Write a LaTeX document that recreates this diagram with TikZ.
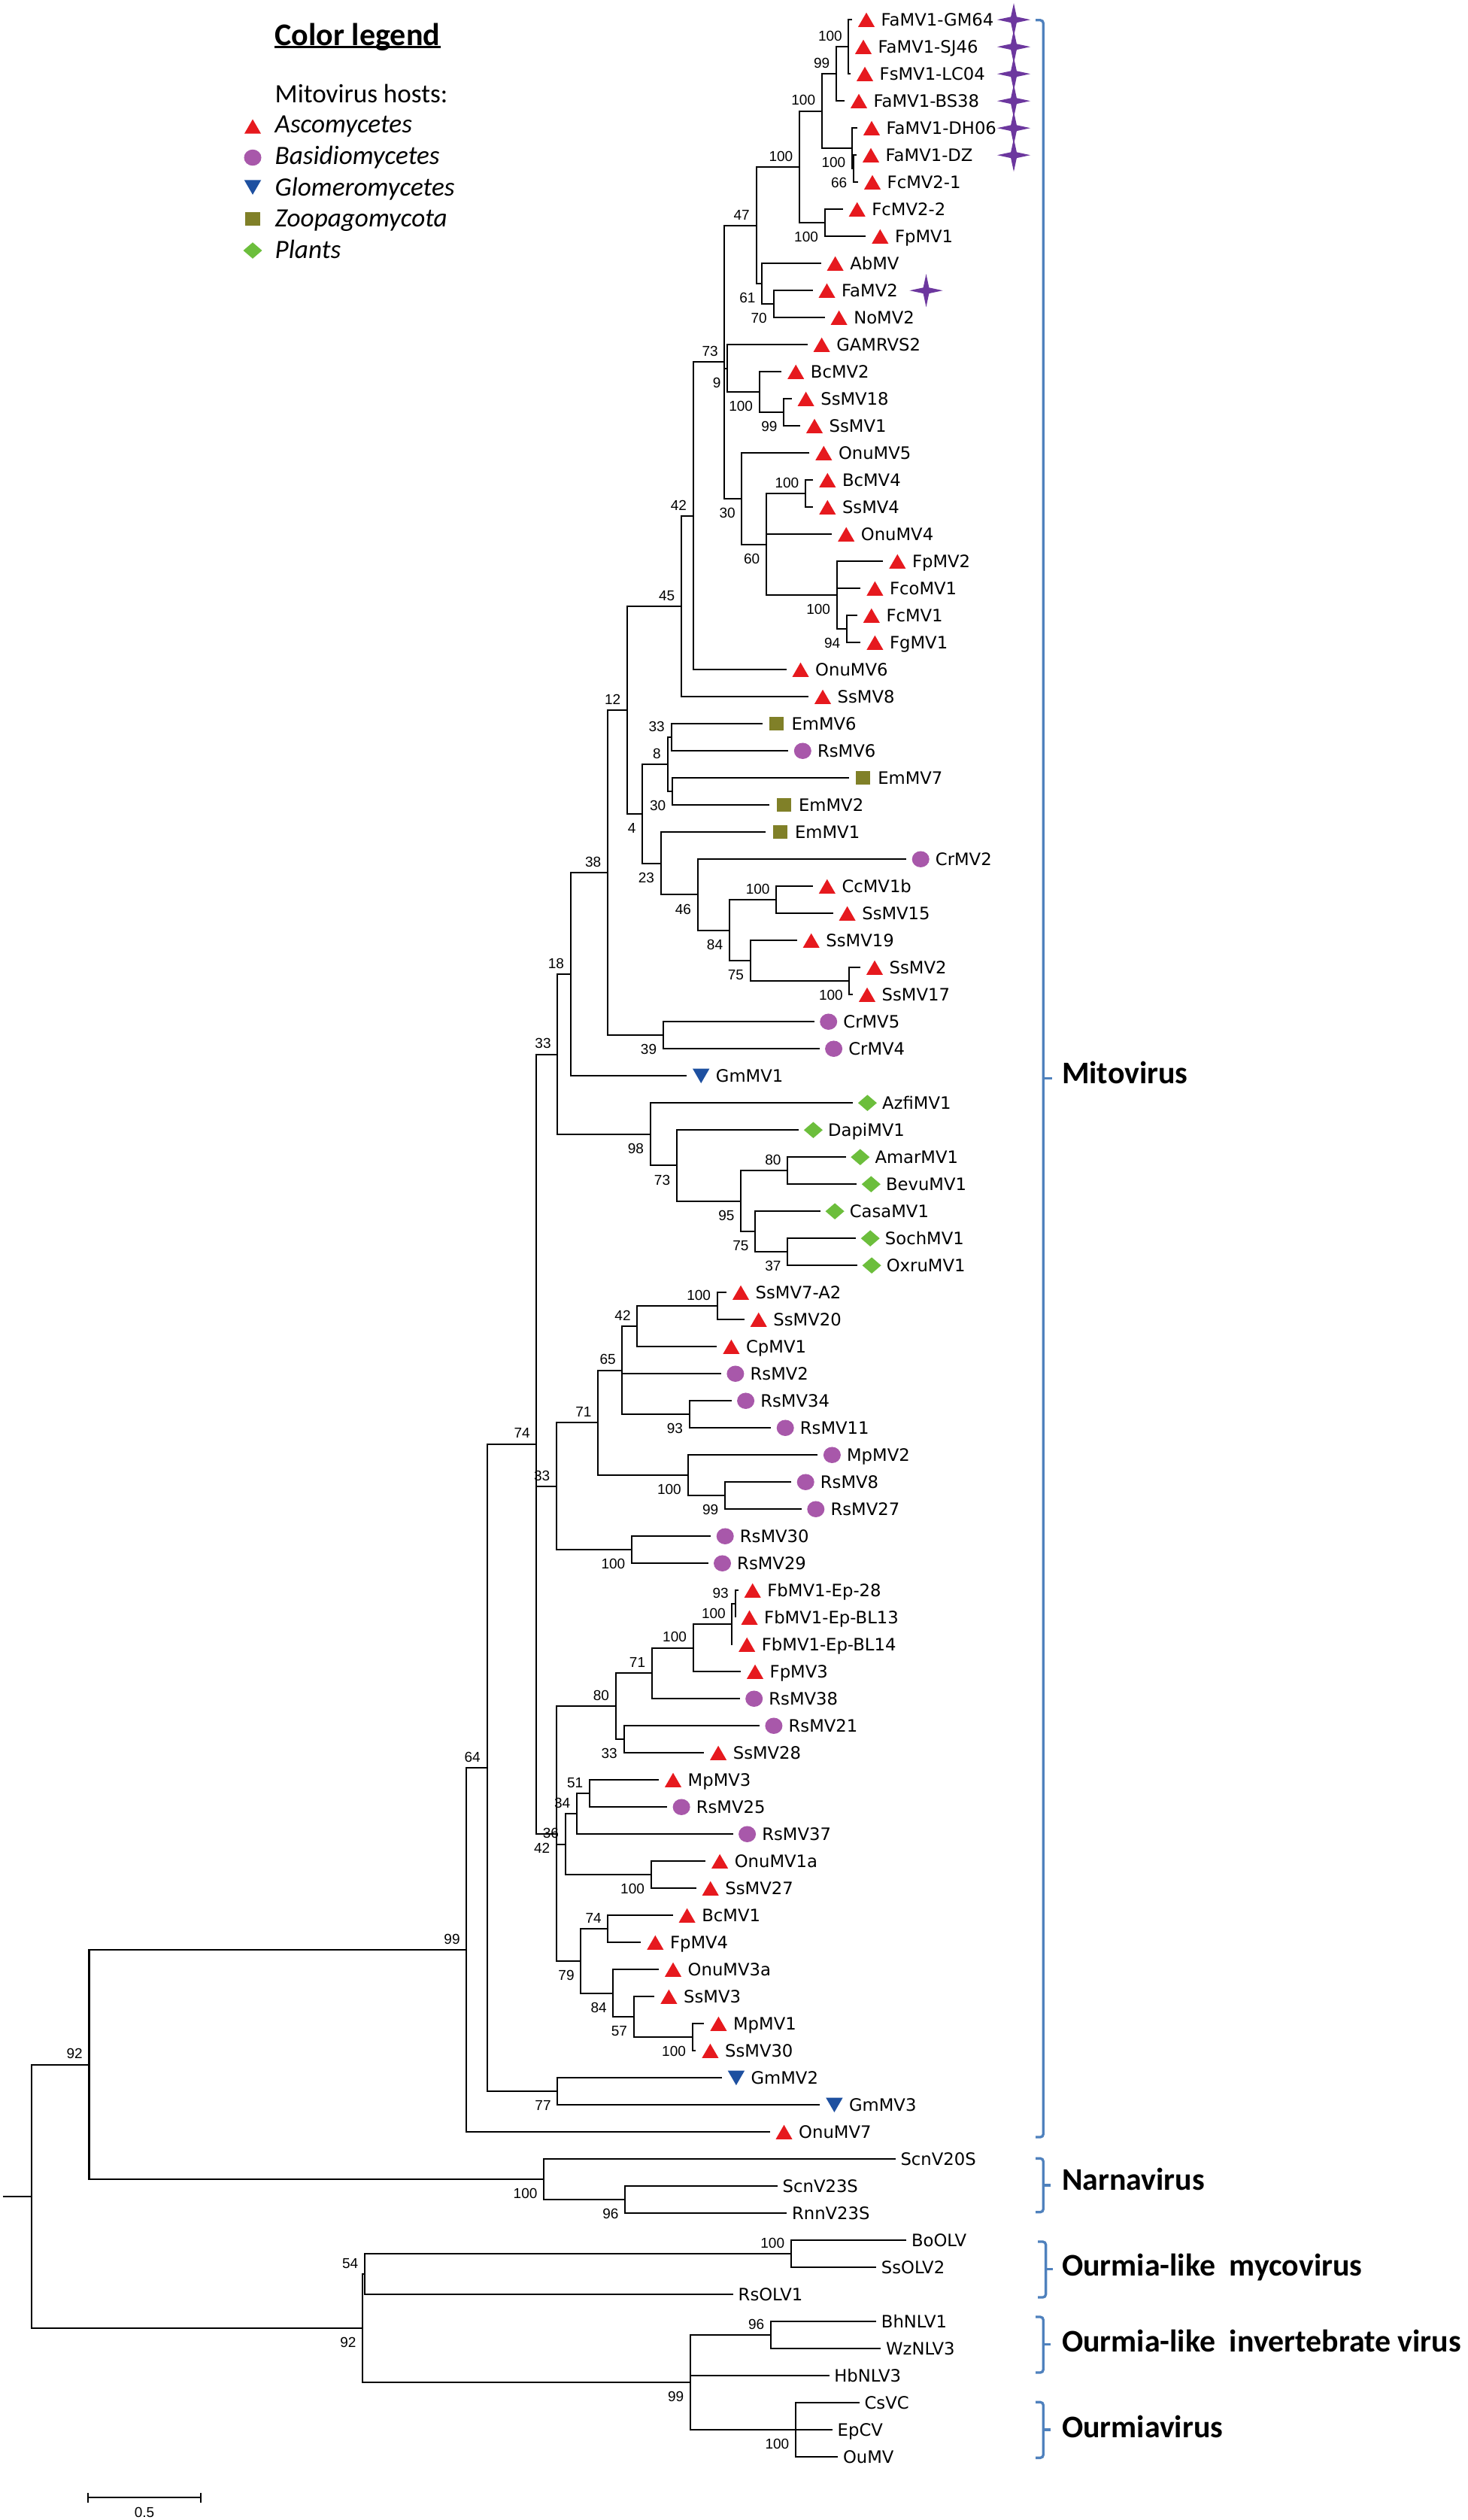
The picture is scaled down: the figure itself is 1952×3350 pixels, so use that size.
\documentclass[tikz,border=0pt]{standalone}
\usepackage{fontspec}
\usepackage{tikz}
\usetikzlibrary{shapes.geometric, arrows.meta}
\newfontfamily\leafface{DejaVu Sans}
\newfontfamily\bootface{Liberation Sans}
\newfontfamily\legface{Carlito}
\newcommand{\leaffont}{\leafface\fontsize{6.46pt}{7.5pt}\selectfont}
\newcommand{\bootfont}{\bootface\fontsize{5.4pt}{6.5pt}\selectfont}
\newcommand{\legfont}{\legface\fontsize{10pt}{12pt}\selectfont}
\newcommand{\grpfont}{\legface\bfseries\fontsize{11.9pt}{14pt}\selectfont}

\definecolor{ascored}{RGB}{230,25,30}
\definecolor{basipurple}{RGB}{168,88,170}
\definecolor{glomblue}{RGB}{30,80,160}
\definecolor{zoopolive}{RGB}{128,128,40}
\definecolor{plantgreen}{RGB}{108,190,60}
\definecolor{starpurple}{RGB}{108,55,158}
\definecolor{brackblue}{RGB}{79,129,189}

\tikzstyle{treeline} = [line width=0.57pt]
\tikzstyle{brack} = [draw=brackblue, line width=0.95pt, rounded corners=0.04cm]
\tikzstyle{mk} = [inner sep=0pt, outer sep=0pt, draw=none]
\tikzstyle{ascomark} = [mk, regular polygon, regular polygon sides=3, minimum size=0.254cm, fill=ascored]
\tikzstyle{glommark} = [mk, regular polygon, regular polygon sides=3, shape border rotate=180, minimum size=0.26cm, fill=glomblue]
\tikzstyle{basimark} = [mk, ellipse, minimum width=0.23cm, minimum height=0.215cm, fill=basipurple]
\tikzstyle{zoopmark} = [mk, rectangle, minimum width=0.19cm, minimum height=0.18cm, fill=zoopolive]
\tikzstyle{plantmark} = [mk, diamond, minimum width=0.25cm, minimum height=0.215cm, fill=plantgreen]
\tikzstyle{famstar} = [mk, star, star points=4, star point ratio=4, minimum size=0.44cm, fill=starpurple]
\tikzstyle{leaftext} = [font=\leaffont, inner sep=0pt, text height=0.165cm, text depth=0pt, label distance=0.38cm]
\tikzstyle{bs} = [font=\bootfont, inner sep=0pt]
\tikzstyle{legtext} = [font=\legfont, inner sep=0pt]
\tikzstyle{grp} = [font=\grpfont, inner sep=0pt, anchor=base west]

\tikzset{
  asco/.style={label={[ascomark, anchor=center, yshift=-0.032cm, label distance=0.19cm]0:{}}, label={[leaftext]0:#1}},
  basi/.style={label={[basimark, anchor=center, label distance=0.19cm]0:{}}, label={[leaftext]0:#1}},
  glom/.style={label={[glommark, anchor=center, yshift=0.032cm, label distance=0.19cm]0:{}}, label={[leaftext]0:#1}},
  zoop/.style={label={[zoopmark, anchor=center, label distance=0.19cm]0:{}}, label={[leaftext]0:#1}},
  plant/.style={label={[plantmark, anchor=center, label distance=0.19cm]0:{}}, label={[leaftext]0:#1}},
  bare/.style={label={[leaftext, label distance=0.06cm]0:#1}},
  bA/.style={label={[bs, anchor=south east, label distance=0pt, xshift=-0.08cm, yshift=0.069cm]0:#1}},
  bB/.style={label={[bs, anchor=north east, label distance=0pt, xshift=-0.08cm, yshift=-0.116cm]0:#1}}
}

\begin{document}
\begin{tikzpicture}[x=0.01cm, y=-0.01cm]
\useasboundingbox (0,0) rectangle (1952,3350);

\node[legtext, font=\legface\bfseries\fontsize{11.95pt}{14pt}\selectfont, anchor=base west] (legtitle) at (365,60) {Color legend};
\draw[line width=0.85pt] ([yshift=-0.027cm]legtitle.base west) -- ([yshift=-0.027cm]legtitle.base east);
\node[legtext, anchor=base west] (hosts) at (365,136.7) {Mitovirus hosts:};
\node[ascomark, yshift=-0.032cm] (kasco) at (336,168) {};
\node[legtext, anchor=base west] (tasco) at (365,176) {\itshape Ascomycetes};
\node[basimark] (kbasi) at (336,209.5) {};
\node[legtext, anchor=base west] (tbasi) at (365,218.3) {\itshape Basidiomycetes};
\node[glommark, yshift=0.032cm] (kglom) at (336,249) {};
\node[legtext, anchor=base west] (tglom) at (365,260) {\itshape Glomeromycetes};
\node[zoopmark] (kzoop) at (336,291) {};
\node[legtext, anchor=base west] (tzoop) at (365,301.7) {\itshape Zoopagomycota};
\node[plantmark] (kplant) at (336,333) {};
\node[legtext, anchor=base west] (tplant) at (365,343.3) {\itshape Plants};

\coordinate[asco=FaMV1-GM64] (FaGM64) at (1133,26.2);
\coordinate[asco=FaMV1-SJ46] (FaSJ46) at (1129,62.2);
\coordinate[asco=FsMV1-LC04] (FsLC04) at (1131,98.2);
\coordinate[asco=FaMV1-BS38] (FaBS38) at (1123,134.2);
\coordinate[asco=FaMV1-DH06] (FaDH06) at (1140,170.2);
\coordinate[asco=FaMV1-DZ] (FaDZ) at (1139,206.2);
\coordinate[asco=FcMV2-1] (FcMV2a) at (1141,242.2);
\coordinate[asco=FcMV2-2] (FcMV2b) at (1120.7,278.2);
\coordinate[asco=FpMV1] (FpMV1) at (1151.3,314.2);
\coordinate[asco=AbMV] (AbMV) at (1091.6,350.2);
\coordinate[asco=FaMV2] (FaMV2) at (1080.5,386.2);
\coordinate[asco=NoMV2] (NoMV2) at (1096.6,422.2);
\coordinate[asco=GAMRVS2] (GAMRVS2) at (1073.6,458.2);
\coordinate[asco=BcMV2] (BcMV2) at (1039.2,494.2);
\coordinate[asco=SsMV18] (SsMV18) at (1052.6,530.2);
\coordinate[asco=SsMV1] (SsMV1) at (1064,566.2);
\coordinate[asco=OnuMV5] (OnuMV5) at (1076.3,602.2);
\coordinate[asco=BcMV4] (BcMV4) at (1081.3,638.2);
\coordinate[asco=SsMV4] (SsMV4) at (1081.3,674.2);
\coordinate[asco=OnuMV4] (OnuMV4) at (1106.2,710.2);
\coordinate[asco=FpMV2] (FpMV2) at (1174.3,746.2);
\coordinate[asco=FcoMV1] (FcoMV1) at (1144.4,782.2);
\coordinate[asco=FcMV1] (FcMV1) at (1139.8,818.2);
\coordinate[asco=FgMV1] (FgMV1) at (1144.4,854.2);
\coordinate[asco=OnuMV6] (OnuMV6) at (1045.5,890.2);
\coordinate[asco=SsMV8] (SsMV8) at (1075,926.2);
\coordinate[zoop=EmMV6] (EmMV6) at (1013.8,962.2);
\coordinate[basi=RsMV6] (RsMV6) at (1048.3,998.2);
\coordinate[zoop=EmMV7] (EmMV7) at (1128.6,1034.2);
\coordinate[zoop=EmMV2] (EmMV2) at (1023.4,1070.2);
\coordinate[zoop=EmMV1] (EmMV1) at (1018.4,1106.2);
\coordinate[basi=CrMV2] (CrMV2) at (1205.2,1142.2);
\coordinate[asco=CcMV1b] (CcMV1b) at (1080.8,1178.2);
\coordinate[asco=SsMV15] (SsMV15) at (1107.6,1214.2);
\coordinate[asco=SsMV19] (SsMV19) at (1059.7,1250.2);
\coordinate[asco=SsMV2] (SsMV2) at (1144,1286.2);
\coordinate[asco=SsMV17] (SsMV17) at (1134,1322.2);
\coordinate[basi=CrMV5] (CrMV5) at (1082.7,1358.2);
\coordinate[basi=CrMV4] (CrMV4) at (1089.6,1394.2);
\coordinate[glom=GmMV1] (GmMV1) at (913.2,1430.2);
\coordinate[plant=AzfiMV1] (AzfiMV1) at (1134.4,1466.2);
\coordinate[plant=DapiMV1] (DapiMV1) at (1062.4,1502.2);
\coordinate[plant=AmarMV1] (AmarMV1) at (1124.8,1538.2);
\coordinate[plant=BevuMV1] (BevuMV1) at (1139.3,1574.2);
\coordinate[plant=CasaMV1] (CasaMV1) at (1091.1,1610.2);
\coordinate[plant=SochMV1] (SochMV1) at (1138.2,1646.2);
\coordinate[plant=OxruMV1] (OxruMV1) at (1140.1,1682.2);
\coordinate[asco=SsMV7-A2] (SsMV7A2) at (966,1718.2);
\coordinate[asco=SsMV20] (SsMV20) at (989.7,1754.2);
\coordinate[asco=CpMV1] (CpMV1) at (953.4,1790.2);
\coordinate[basi=RsMV2] (RsMV2) at (958.9,1826.2);
\coordinate[basi=RsMV34] (RsMV34) at (972.6,1862.2);
\coordinate[basi=RsMV11] (RsMV11) at (1025.2,1898.2);
\coordinate[basi=MpMV2] (MpMV2) at (1087.4,1934.2);
\coordinate[basi=RsMV8] (RsMV8) at (1052.2,1970.2);
\coordinate[basi=RsMV27] (RsMV27) at (1065.8,2006.2);
\coordinate[basi=RsMV30] (RsMV30) at (945.2,2042.2);
\coordinate[basi=RsMV29] (RsMV29) at (941.5,2078.2);
\coordinate[asco=FbMV1-Ep-28] (FbEp28) at (981.7,2114.2);
\coordinate[asco=FbMV1-Ep-BL13] (FbBL13) at (977.5,2150.2);
\coordinate[asco=FbMV1-Ep-BL14] (FbBL14) at (974.2,2186.2);
\coordinate[asco=FpMV3] (FpMV3) at (985,2222.2);
\coordinate[basi=RsMV38] (RsMV38) at (983.7,2258.2);
\coordinate[basi=RsMV21] (RsMV21) at (1009.9,2294.2);
\coordinate[asco=SsMV28] (SsMV28) at (936.1,2330.2);
\coordinate[asco=MpMV3] (MpMV3) at (876,2366.2);
\coordinate[basi=RsMV25] (RsMV25) at (887.1,2402.2);
\coordinate[basi=RsMV37] (RsMV37) at (974.6,2438.2);
\coordinate[asco=OnuMV1a] (OnuMV1a) at (938.1,2474.2);
\coordinate[asco=SsMV27] (SsMV27) at (925.7,2510.2);
\coordinate[asco=BcMV1] (BcMV1) at (894.6,2546.2);
\coordinate[asco=FpMV4] (FpMV4) at (852.3,2582.2);
\coordinate[asco=OnuMV3a] (OnuMV3a) at (876,2618.2);
\coordinate[asco=SsMV3] (SsMV3) at (870.4,2654.2);
\coordinate[asco=MpMV1] (MpMV1) at (936.4,2690.2);
\coordinate[asco=SsMV30] (SsMV30) at (925.4,2726.2);
\coordinate[glom=GmMV2] (GmMV2) at (959.9,2762.2);
\coordinate[glom=GmMV3] (GmMV3) at (1090.4,2798.2);
\coordinate[asco=OnuMV7] (OnuMV7) at (1023.5,2834.2);
\coordinate[bare=ScnV20S] (ScnV20S) at (1190.8,2870.2);
\coordinate[bare=ScnV23S] (ScnV23S) at (1034,2906.2);
\coordinate[bare=RnnV23S] (RnnV23S) at (1046.4,2942.2);
\coordinate[bare=BoOLV] (BoOLV) at (1205.4,2978.2);
\coordinate[bare=SsOLV2] (SsOLV2) at (1165.2,3014.2);
\coordinate[bare=RsOLV1] (RsOLV1) at (975,3050.2);
\coordinate[bare=BhNLV1] (BhNLV1) at (1165.2,3086.2);
\coordinate[bare=WzNLV3] (WzNLV3) at (1171.4,3122.2);
\coordinate[bare=HbNLV3] (HbNLV3) at (1102.7,3158.2);
\coordinate[bare=CsVC] (CsVC) at (1142.9,3194.2);
\coordinate[bare=EpCV] (EpCV) at (1107,3230.2);
\coordinate[bare=OuMV] (OuMV) at (1114.3,3266.2);

\node[famstar] (stGM64) at (1348,26.2) {};
\node[famstar] (stSJ46) at (1348,62.2) {};
\node[famstar] (stLC04) at (1348,98.2) {};
\node[famstar] (stBS38) at (1348,134.2) {};
\node[famstar] (stDH06) at (1348,170.2) {};
\node[famstar] (stDZ) at (1348,206.2) {};
\node[famstar] (stFaMV2) at (1231.5,386.2) {};

\coordinate[bA=100] (nFaA) at (1128.4,62.2);
\coordinate[bA=99] (nFaB) at (1112,98.2);
\coordinate[bB=66] (nDZ) at (1134.9,224.2);
\coordinate[bB=100] (nDH) at (1133,197.2);
\coordinate[bA=100] (nFaC) at (1092.8,147.7);
\coordinate[bB=100] (nFc) at (1096.6,296.2);
\coordinate[bA=100] (nFaD) at (1062.9,221.95);
\coordinate[bB=70] (n70) at (1028.5,404.2);
\coordinate[bB=61] (n61) at (1013.2,377.2);
\coordinate[bA=47] (n47) at (1005.5,299.6);
\coordinate[bB=99] (nSs1) at (1042.2,548.2);
\coordinate[bB=100] (nBc2) at (1009.7,521.2);
\coordinate[bB=9] (n9) at (967.2,489.7);
\coordinate[bA=100] (nBc4) at (1071,656.2);
\coordinate[bB=94] (n94) at (1126,836.2);
\coordinate[bB=100] (nFp2) at (1112.7,791.2);
\coordinate[bB=60] (n60) at (1018.9,723.7);
\coordinate[bB=30] (n30a) at (986.4,662.95);
\coordinate[bA=73] (n73a) at (963.4,481.3);
\coordinate[bA=42] (n42a) at (921.7,685.75);
\coordinate[bA=45] (n45) at (906,805.98);
\coordinate[bA=33] (n33a) at (892.5,980.2);
\coordinate[bB=30] (n30b) at (894,1052.2);
\coordinate[bA=8] (n8) at (887.5,1016.2);
\coordinate[bA=100] (nCc) at (1032.2,1196.2);
\coordinate[bB=100] (nSs2) at (1129.4,1304.2);
\coordinate[bB=75] (n75a) at (997.7,1277.2);
\coordinate[bB=84] (n84a) at (969.8,1236.7);
\coordinate[bB=46] (n46) at (927.7,1189.45);
\coordinate[bB=23] (n23) at (878.7,1147.83);
\coordinate[bB=4] (n4) at (854.2,1082.0);
\coordinate[bA=12] (n12) at (834,943.99);
\coordinate[bB=39] (n39) at (881.8,1376.2);
\coordinate[bA=38] (n38) at (807.9,1160.1);
\coordinate[bA=18] (n18) at (758.6,1295.15);
\coordinate[bA=80] (n80a) at (1047.1,1556.2);
\coordinate[bB=37] (n37) at (1047.1,1664.2);
\coordinate[bB=75] (n75b) at (1004.2,1637.2);
\coordinate[bB=95] (n95) at (985.1,1596.7);
\coordinate[bB=73] (n73b) at (899.8,1549.45);
\coordinate[bB=98] (n98) at (864.6,1507.83);
\coordinate[bA=33] (n33b) at (741.3,1401.49);
\coordinate[bA=100] (nSs7) at (953.7,1736.2);
\coordinate[bA=42] (n42b) at (847.3,1763.2);
\coordinate[bB=93] (n93a) at (916.6,1880.2);
\coordinate[bA=65] (n65) at (827.4,1821.7);
\coordinate[bB=99] (n99a) at (963.9,1988.2);
\coordinate[bB=100] (nMp2) at (914.5,1961.2);
\coordinate[bA=71] (n71a) at (795.1,1891.45);
\coordinate[bB=100] (nRs30) at (839.9,2060.2);
\coordinate[bA=33] (n33c) at (740,1975.83);
\coordinate[bA=93] (n93b) at (977.5,2132.2);
\coordinate[bA=100] (nFb) at (973.4,2159.2);
\coordinate[bA=100] (nFp3) at (921.6,2190.7);
\coordinate[bA=71] (n71b) at (866.8,2224.45);
\coordinate[bB=33] (n33d) at (829.5,2312.2);
\coordinate[bA=80] (n80b) at (818.7,2268.33);
\coordinate[bA=51] (n51) at (783.9,2384.2);
\coordinate[bA=34] (n34) at (766.9,2411.2);
\coordinate[bB=100] (nOnu1) at (865.6,2492.2);
\coordinate[bA=36] (n36) at (751.6,2451.7);
\coordinate[bA=74] (n74b) at (808.4,2564.2);
\coordinate[bB=100] (nMp1) at (920.6,2708.2);
\coordinate[bB=57] (n57) at (842.7,2681.2);
\coordinate[bB=84] (n84b) at (815.4,2649.7);
\coordinate[bB=79] (n79) at (772.3,2606.95);
\coordinate[bB=42] (n42c) at (740,2437.64);
\coordinate[bA=74] (n74a) at (713.4,1919.57);
\coordinate[bB=77] (n77) at (741.3,2780.2);
\coordinate[bA=64] (n64) at (647.5,2349.89);
\coordinate[bA=99] (n99b) at (620.3,2592.05);
\coordinate[bB=96] (n96a) at (831.2,2924.2);
\coordinate[bB=100] (nNarna) at (723.1,2897.2);
\coordinate[bA=92] (n92a) at (118.5,2744.63);
\coordinate[bA=100] (nBo) at (1051.8,2996.2);
\coordinate[bA=54] (n54) at (485,3023.2);
\coordinate[bA=96] (n96b) at (1025,3104.2);
\coordinate[bB=100] (nOu) at (1058,3230.2);
\coordinate[bB=99] (n99c) at (917.9,3167.2);
\coordinate[bB=92] (n92b) at (482.1,3095.2);
\coordinate (root) at (42,2919.9);
\coordinate (rootstub) at (3.6,2919.9);

\draw[treeline] (rootstub) -- (root);
\draw[treeline] (n92a) -| (root) |- (n92b);
\draw[treeline] (n99b) -| (n92a) |- (nNarna);
\draw[treeline] (n64) -| (n99b) |- (OnuMV7);
\draw[treeline] (n74a) -| (n64) |- (n77);
\draw[treeline] (n33b) -| (n74a) |- (n42c) (n74a) |- (n33c);
\draw[treeline] (n18) -| (n33b) |- (n98);
\draw[treeline] (n38) -| (n18) |- (GmMV1);
\draw[treeline] (n12) -| (n38) |- (n39);
\draw[treeline] (n45) -| (n12) |- (n4);
\draw[treeline] (n42a) -| (n45) |- (SsMV8);
\draw[treeline] (n73a) -| (n42a) |- (OnuMV6);
\draw[treeline] (n47) -| (n73a) |- (n30a) (n73a) |- (n9);
\draw[treeline] (nFaD) -| (n47) |- (n61);
\draw[treeline] (nFaC) -| (nFaD) |- (nFc);
\draw[treeline] (nFaB) -| (nFaC) |- (nDH);
\draw[treeline] (nFaA) -| (nFaB) |- (FaBS38);
\draw[treeline] (FaGM64) -| (nFaA) |- (FsLC04) (nFaA) |- (FaSJ46);
\draw[treeline] (FaDH06) -| (nDH) |- (nDZ);
\draw[treeline] (FaDZ) -| (nDZ) |- (FcMV2a);
\draw[treeline] (FcMV2b) -| (nFc) |- (FpMV1);
\draw[treeline] (AbMV) -| (n61) |- (n70);
\draw[treeline] (FaMV2) -| (n70) |- (NoMV2);
\draw[treeline] (GAMRVS2) -| (n9) |- (nBc2);
\draw[treeline] (BcMV2) -| (nBc2) |- (nSs1);
\draw[treeline] (SsMV18) -| (nSs1) |- (SsMV1);
\draw[treeline] (OnuMV5) -| (n30a) |- (n60);
\draw[treeline] (nBc4) -| (n60) |- (nFp2) (n60) |- (OnuMV4);
\draw[treeline] (BcMV4) -| (nBc4) |- (SsMV4);
\draw[treeline] (FpMV2) -| (nFp2) |- (n94) (nFp2) |- (FcoMV1);
\draw[treeline] (FcMV1) -| (n94) |- (FgMV1);
\draw[treeline] (n8) -| (n4) |- (n23);
\draw[treeline] (n33a) -| (n8) |- (n30b);
\draw[treeline] (EmMV6) -| (n33a) |- (RsMV6);
\draw[treeline] (EmMV7) -| (n30b) |- (EmMV2);
\draw[treeline] (EmMV1) -| (n23) |- (n46);
\draw[treeline] (CrMV2) -| (n46) |- (n84a);
\draw[treeline] (nCc) -| (n84a) |- (n75a);
\draw[treeline] (CcMV1b) -| (nCc) |- (SsMV15);
\draw[treeline] (SsMV19) -| (n75a) |- (nSs2);
\draw[treeline] (SsMV2) -| (nSs2) |- (SsMV17);
\draw[treeline] (CrMV5) -| (n39) |- (CrMV4);
\draw[treeline] (AzfiMV1) -| (n98) |- (n73b);
\draw[treeline] (DapiMV1) -| (n73b) |- (n95);
\draw[treeline] (n80a) -| (n95) |- (n75b);
\draw[treeline] (AmarMV1) -| (n80a) |- (BevuMV1);
\draw[treeline] (CasaMV1) -| (n75b) |- (n37);
\draw[treeline] (SochMV1) -| (n37) |- (OxruMV1);
\draw[treeline] (n71a) -| (n33c) |- (nRs30);
\draw[treeline] (n65) -| (n71a) |- (nMp2);
\draw[treeline] (n42b) -| (n65) |- (n93a) (n65) |- (RsMV2);
\draw[treeline] (nSs7) -| (n42b) |- (CpMV1);
\draw[treeline] (SsMV7A2) -| (nSs7) |- (SsMV20);
\draw[treeline] (RsMV34) -| (n93a) |- (RsMV11);
\draw[treeline] (MpMV2) -| (nMp2) |- (n99a);
\draw[treeline] (RsMV8) -| (n99a) |- (RsMV27);
\draw[treeline] (RsMV30) -| (nRs30) |- (RsMV29);
\draw[treeline] (n80b) -| (n42c) |- (n79) (n42c) |- (n36);
\draw[treeline] (n71b) -| (n80b) |- (n33d);
\draw[treeline] (nFp3) -| (n71b) |- (RsMV38);
\draw[treeline] (nFb) -| (nFp3) |- (FpMV3);
\draw[treeline] (n93b) -| (nFb) |- (FbBL14);
\draw[treeline] (FbEp28) -| (n93b) |- (FbBL13);
\draw[treeline] (RsMV21) -| (n33d) |- (SsMV28);
\draw[treeline] (n34) -| (n36) |- (nOnu1);
\draw[treeline] (n51) -| (n34) |- (RsMV37);
\draw[treeline] (MpMV3) -| (n51) |- (RsMV25);
\draw[treeline] (OnuMV1a) -| (nOnu1) |- (SsMV27);
\draw[treeline] (n74b) -| (n79) |- (n84b);
\draw[treeline] (BcMV1) -| (n74b) |- (FpMV4);
\draw[treeline] (OnuMV3a) -| (n84b) |- (n57);
\draw[treeline] (SsMV3) -| (n57) |- (nMp1);
\draw[treeline] (MpMV1) -| (nMp1) |- (SsMV30);
\draw[treeline] (GmMV2) -| (n77) |- (GmMV3);
\draw[treeline] (ScnV20S) -| (nNarna) |- (n96a);
\draw[treeline] (ScnV23S) -| (n96a) |- (RnnV23S);
\draw[treeline] (n54) -| (n92b) |- (n99c);
\draw[treeline] (nBo) -| (n54) |- (RsOLV1);
\draw[treeline] (BoOLV) -| (nBo) |- (SsOLV2);
\draw[treeline] (n96b) -| (n99c) |- (nOu) (n99c) |- (HbNLV3);
\draw[treeline] (BhNLV1) -| (n96b) |- (WzNLV3);
\draw[treeline] (CsVC) -| (nOu) |- (OuMV) (nOu) |- (EpCV);

\draw[brack] (1377,26.8) -- (1387.3,26.8) -- (1387.3,2841) -- (1377,2841);
\draw[brack] (1387.3,1433.5) -- (1398.5,1433.5);
\draw[brack] (1377,2869.3) -- (1387.3,2869.3) -- (1387.3,2940.7) -- (1377,2940.7);
\draw[brack] (1387.3,2905) -- (1397,2905);
\draw[brack] (1380,2980) -- (1390.6,2980) -- (1390.6,3054) -- (1380,3054);
\draw[brack] (1390.6,3016.7) -- (1400,3016.7);
\draw[brack] (1377,3080) -- (1387.3,3080) -- (1387.3,3154) -- (1377,3154);
\draw[brack] (1387.3,3116.7) -- (1397,3116.7);
\draw[brack] (1377,3193.3) -- (1387.3,3193.3) -- (1387.3,3267.3) -- (1377,3267.3);
\draw[brack] (1387.3,3230) -- (1397,3230);

\node[grp] (gMito) at (1411.4,1440) {Mitovirus};
\node[grp] (gNarna) at (1411.4,2911.7) {Narnavirus};
\node[grp] (gMyco) at (1411.4,3025) {Ourmia-like\ \ mycovirus};
\node[grp] (gInv) at (1411.4,3126) {Ourmia-like\ \ invertebrate virus};
\node[grp] (gOurm) at (1411.4,3240) {Ourmiavirus};

\coordinate (sbL) at (116,3320.3);
\coordinate (sbR) at (267.9,3320.3);
\draw[treeline, {Bar[width=0.13cm]}-{Bar[width=0.13cm]}] (sbL) -- (sbR);
\node[bs, anchor=north] (sbLab) at (192,3332) {0.5};
\end{tikzpicture}
\end{document}
